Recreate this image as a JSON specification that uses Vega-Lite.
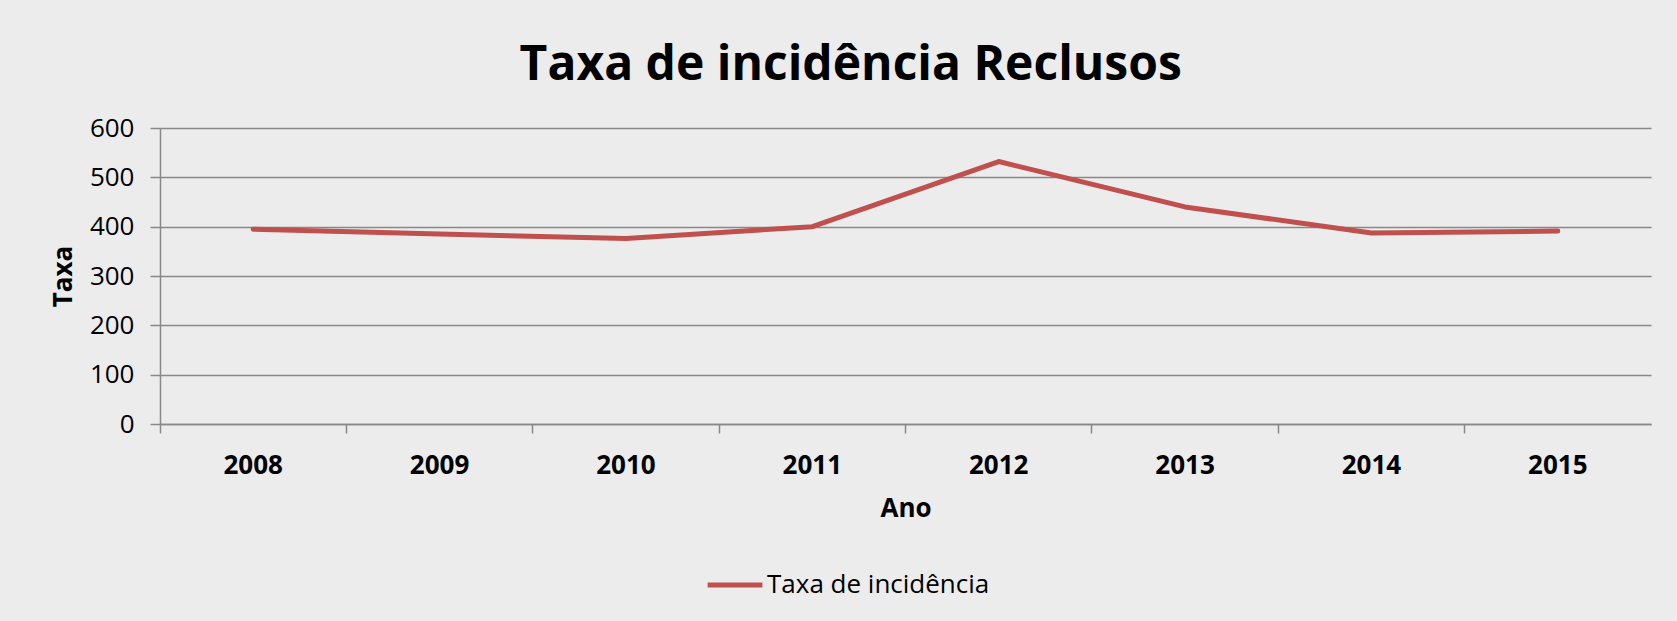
{
  "$schema": "https://vega.github.io/schema/vega-lite/v6.json",
  "autosize": {"type": "none"},
  "width": 1491,
  "height": 296,
  "padding": {"left": 160, "top": 128, "right": 26, "bottom": 197},
  "background": "#ECECEC",
  "title": {
    "text": "Taxa de incidência Reclusos",
    "font": "Open Sans",
    "fontSize": 48,
    "fontWeight": "bold",
    "color": "#000000",
    "anchor": "middle",
    "frame": "bounds",
    "offset": 25
  },
  "data": {
    "values": [
      {"Ano": "2008", "Taxa": 395, "Serie": "Taxa de incidência"},
      {"Ano": "2009", "Taxa": 385, "Serie": "Taxa de incidência"},
      {"Ano": "2010", "Taxa": 376, "Serie": "Taxa de incidência"},
      {"Ano": "2011", "Taxa": 400, "Serie": "Taxa de incidência"},
      {"Ano": "2012", "Taxa": 532, "Serie": "Taxa de incidência"},
      {"Ano": "2013", "Taxa": 440, "Serie": "Taxa de incidência"},
      {"Ano": "2014", "Taxa": 387, "Serie": "Taxa de incidência"},
      {"Ano": "2015", "Taxa": 391, "Serie": "Taxa de incidência"}
    ]
  },
  "mark": {"type": "line", "strokeWidth": 5, "strokeCap": "round", "strokeJoin": "round"},
  "encoding": {
    "x": {
      "field": "Ano",
      "type": "ordinal",
      "scale": {"type": "band", "paddingInner": 0, "paddingOuter": 0},
      "axis": {
        "title": "Ano",
        "labelAngle": 0,
        "bandPosition": 0,
        "labelPadding": 19,
        "labelFont": "Open Sans",
        "labelFontSize": 26,
        "labelFontWeight": "bold",
        "labelColor": "#000000",
        "titleFont": "Open Sans",
        "titleFontSize": 26,
        "titleFontWeight": "bold",
        "titleColor": "#000000",
        "titlePadding": 17,
        "domainColor": "#888888",
        "domainWidth": 1.5,
        "tickColor": "#888888",
        "tickWidth": 1.5,
        "tickSize": 9,
        "grid": false
      }
    },
    "y": {
      "field": "Taxa",
      "type": "quantitative",
      "scale": {"domain": [0, 600]},
      "axis": {
        "title": "Taxa",
        "values": [0, 100, 200, 300, 400, 500, 600],
        "labelFont": "Open Sans",
        "labelFontSize": 26,
        "labelColor": "#000000",
        "labelPadding": 16,
        "titleFont": "Open Sans",
        "titleFontSize": 26,
        "titleFontWeight": "bold",
        "titleColor": "#000000",
        "titlePadding": 13,
        "domainColor": "#888888",
        "domainWidth": 1.5,
        "tickColor": "#888888",
        "tickWidth": 1.5,
        "tickSize": 10,
        "grid": true,
        "gridColor": "#888888",
        "gridWidth": 1.5,
        "gridOpacity": 1
      }
    },
    "color": {
      "field": "Serie",
      "type": "nominal",
      "scale": {"range": ["#C0504D"]},
      "legend": {
        "title": null,
        "orient": "none",
        "legendX": 545,
        "legendY": 427,
        "symbolType": "stroke",
        "symbolSize": 3000,
        "symbolStrokeWidth": 5,
        "labelFont": "Open Sans",
        "labelFontSize": 26,
        "labelColor": "#000000",
        "labelLimit": 0,
        "labelOffset": 2
      }
    }
  },
  "config": {
    "view": {"stroke": null}
  }
}
